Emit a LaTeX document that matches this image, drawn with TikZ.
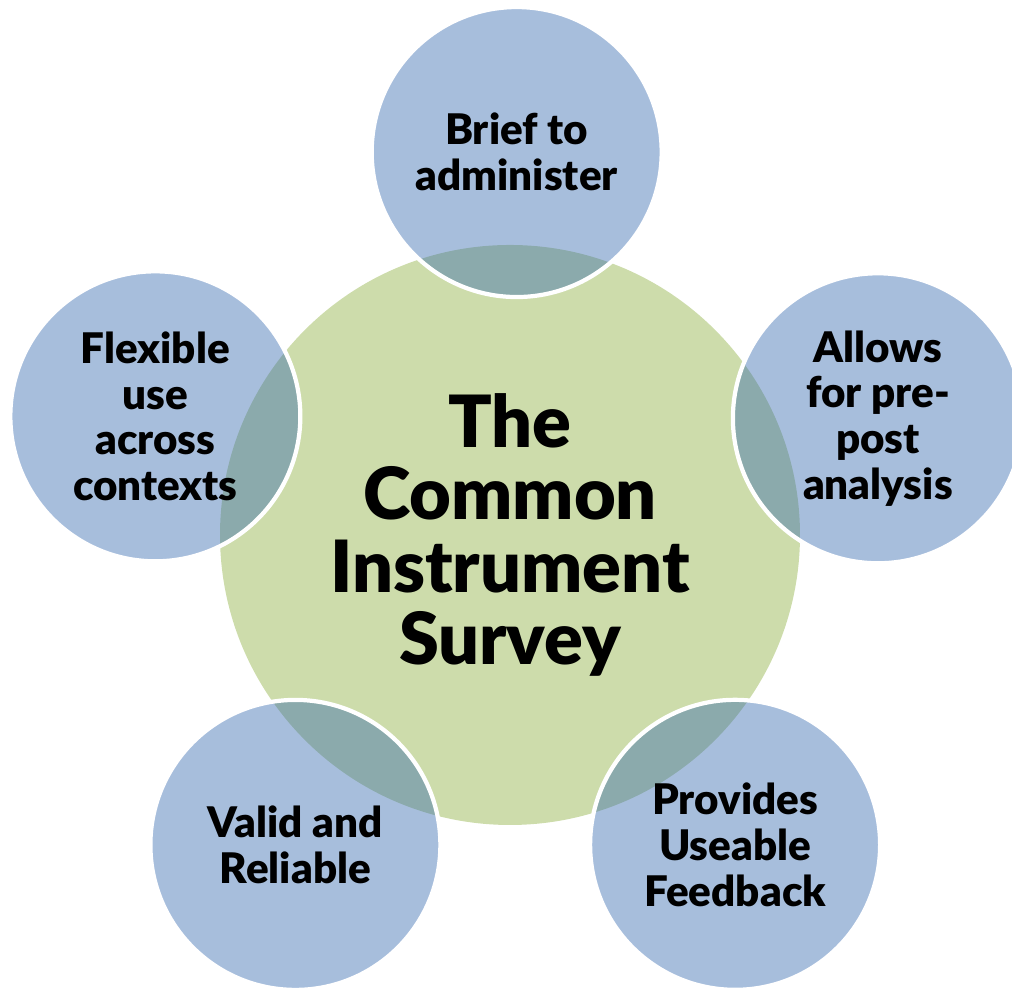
\documentclass[tikz,border=0pt]{standalone}
\usepackage{fontspec}
\setmainfont{Lato}[BoldFont = Lato Black]
\usetikzlibrary{calc}

\definecolor{hubgreen}{RGB}{205,220,171}
\definecolor{spokeblue}{RGB}{52,105,175}

\begin{document}
\begin{tikzpicture}
  \useasboundingbox (0, 0) rectangle (10.12, 9.88);
  \coordinate (O) at (5.10, 4.53);

  \node[circle, fill = hubgreen, minimum size = 5.8cm, inner sep = 0,
  align = center, font = \fontsize{20.5}{20.5}\selectfont\bfseries] (survey)
  at (O) {The\\Common\\Instrument\\Survey};

  \foreach \a/\d/\n/\t in {89/3.83/brief/{Brief to\\administer},
    17.6/3.86/prepost/{Allows\\for pre-\\post\\analysis},
    306/3.83/feedback/{Provides\\Useable\\Feedback},
    235.3/3.77/valid/{Valid and\\Reliable},
    161.5/3.74/flexible/{Flexible\\use\\across\\contexts}}{
    \node[circle, minimum size = 2.9cm, inner sep = 0, fill = spokeblue,
    fill opacity = .43, text opacity = 1, draw = white, draw opacity = 1,
    line width = 1.2pt, align = center,
    font = \fontsize{12}{13}\selectfont\bfseries] (\n)
    at ($(O) + (\a:\d)$) {\t};
  }
\end{tikzpicture}
\end{document}
